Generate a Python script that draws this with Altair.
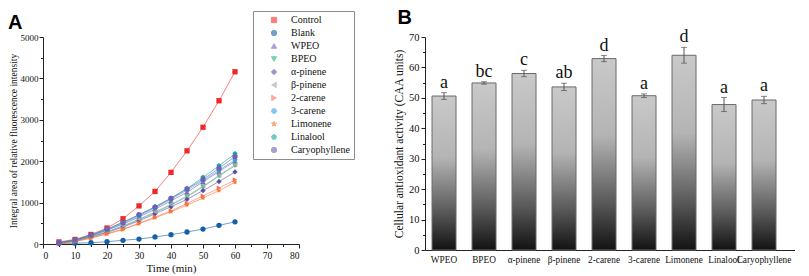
import altair as alt
import numpy as np
import pandas as pd

# ---------------- Panel A data ----------------
times = [5, 10, 15, 20, 25, 30, 35, 40, 45, 50, 55, 60]
series_names = ["Control", "Blank", "WPEO", "BPEO", "α-pinene", "β-pinene",
                "2-carene", "3-carene", "Limonene", "Linalool", "Caryophyllene"]
control = [50, 110, 230, 385, 610, 920, 1270, 1730, 2250, 2820, 3460, 4160]
blank = [15, 20, 30, 55, 90, 120, 170, 225, 290, 360, 450, 535]
wpeo = [30, 90, 200, 330, 480, 650, 840, 1040, 1250, 1500, 1750, 2000]
bpeo = [20, 80, 180, 290, 430, 590, 760, 940, 1140, 1380, 1640, 1890]
a_pinene = [20, 70, 170, 280, 410, 560, 730, 900, 1080, 1290, 1510, 1740]
b_pinene = [20, 80, 190, 300, 440, 600, 780, 960, 1160, 1400, 1660, 1915]
carene2 = [10, 60, 150, 250, 360, 500, 650, 800, 980, 1160, 1350, 1550]
carene3 = [30, 90, 200, 340, 500, 680, 870, 1080, 1300, 1530, 1780, 2035]
limonene = [10, 60, 140, 240, 350, 490, 630, 780, 940, 1110, 1290, 1490]
linalool = [30, 90, 210, 350, 530, 700, 900, 1110, 1340, 1610, 1890, 2180]
caryophyllene = [30, 100, 220, 360, 520, 710, 890, 1100, 1330, 1560, 1830, 2115]
series_values = [control, blank, wpeo, bpeo, a_pinene, b_pinene,
                 carene2, carene3, limonene, linalool, caryophyllene]

series_colors = ["#f0282a", "#1560a8", "#7b62b4", "#1fb37a", "#5a4ea0", "#a6a6a6",
                 "#fb6e5c", "#3c9fe0", "#f5792a", "#13a89e", "#6f62b3"]


def star_path(n=5, r_out=1.0, r_in=0.45):
    pts = []
    for i in range(2 * n):
        r = r_out if i % 2 == 0 else r_in
        ang = -np.pi / 2 + i * np.pi / n
        pts.append((r * np.cos(ang), r * np.sin(ang)))
    return "M" + "L".join(f"{x:.3f},{y:.3f}" for x, y in pts) + "Z"


def poly_path(n, start):
    pts = []
    for i in range(n):
        ang = start + i * 2 * np.pi / n
        pts.append((np.cos(ang), np.sin(ang)))
    return "M" + "L".join(f"{x:.3f},{y:.3f}" for x, y in pts) + "Z"


series_shapes = ["square", "circle", "triangle-up", "triangle-down", "diamond",
                 "triangle-left", "triangle-right", poly_path(6, 0.0), star_path(),
                 poly_path(5, -np.pi / 2), "circle"]

rows = []
for name, vals in zip(series_names, series_values):
    for t, v in zip(times, vals):
        rows.append({"t": t, "v": v, "series": name})
dfA = pd.DataFrame(rows)

# ---------------- Panel B data ----------------
b_categories = ["WPEO", "BPEO", "α-pinene", "β-pinene", "2-carene",
                "3-carene", "Limonene", "Linalool", "Caryophyllene"]
b_values = [50.6, 54.9, 58.0, 53.6, 62.9, 50.7, 64.0, 47.8, 49.3]
b_errors = [1.1, 0.4, 1.05, 1.2, 1.0, 0.6, 2.6, 2.3, 1.2]
b_letters = ["a", "bc", "c", "ab", "d", "a", "d", "a", "a"]

dfB = pd.DataFrame({"cat": b_categories, "val": b_values, "err": b_errors, "let": b_letters})
dfB["lo"] = dfB["val"] - dfB["err"]
dfB["hi"] = dfB["val"] + dfB["err"]

SERIF = "Liberation Serif"

# ---------------- Panel A chart ----------------
legend = alt.Legend(
    title=None, orient="none", legendX=210, legendY=-26,
    strokeColor="#8c8c8c", padding=4, labelFont=SERIF, labelFontSize=10,
    labelColor="#111", symbolSize=28, rowPadding=3, symbolStrokeWidth=1,
    labelOffset=12, symbolOffset=12,
)
color_scale = alt.Scale(domain=series_names, range=series_colors)
shape_scale = alt.Scale(domain=series_names, range=series_shapes)

x_a = alt.X("t:Q", scale=alt.Scale(domain=[0, 80], nice=False),
            axis=alt.Axis(title="Time (min)", values=list(range(0, 85, 5)),
                          labelExpr="datum.value % 10 === 0 ? datum.label : ''",
                          labelOverlap=False,
                          tickSize=alt.condition("datum.value % 10 === 0", alt.value(4), alt.value(2.5)),
                          titleFontSize=11, titlePadding=3))
y_a = alt.Y("v:Q", scale=alt.Scale(domain=[0, 5000], nice=False),
            axis=alt.Axis(title="Integral area of relative fluorescence intensity",
                          values=list(range(0, 5500, 500)),
                          labelExpr="datum.value % 1000 === 0 ? datum.label : ''",
                          labelOverlap=False, labelPadding=1,
                          tickSize=alt.condition("datum.value % 1000 === 0", alt.value(4), alt.value(2.5)),
                          format="d", titleFontSize=9.5, titlePadding=2, labelFontSize=9))

lines = alt.Chart(dfA).mark_line(strokeWidth=1, opacity=0.6).encode(
    x=x_a, y=y_a,
    color=alt.Color("series:N", scale=color_scale, legend=legend),
    detail="series:N",
)
points = alt.Chart(dfA).mark_point(filled=True, size=28, opacity=1).encode(
    x=x_a, y=y_a,
    color=alt.Color("series:N", scale=color_scale, legend=legend),
    shape=alt.Shape("series:N", scale=shape_scale, legend=legend),
)
chartA = alt.layer(lines, points).properties(
    width=256, height=207,
    title=alt.TitleParams("A", anchor="start", frame="bounds", fontSize=20,
                          font="Liberation Sans", fontWeight="bold", offset=0),
)

# ---------------- Panel B chart ----------------
grad = alt.Gradient(
    gradient="linear",
    stops=[alt.GradientStop(color="#c9c9c9", offset=0),
           alt.GradientStop(color="#b4b4b4", offset=0.4),
           alt.GradientStop(color="#5a5a5a", offset=0.75),
           alt.GradientStop(color="#121212", offset=1)],
    x1=0, x2=0, y1=0, y2=1,
)
x_b = alt.X("cat:N", sort=b_categories,
            scale=alt.Scale(paddingInner=0.4, paddingOuter=0.325, align=0.27),
            axis=alt.Axis(title=None, labelAngle=0, labelFontSize=9.3, ticks=False,
                          labelPadding=5, labelOverlap=False))
y_b_scale = alt.Scale(domain=[0, 70], nice=False)
y_b_axis = alt.Axis(title="Cellular antioxidant activity (CAA units)",
                    values=list(range(0, 75, 5)),
                    labelExpr="datum.value % 10 === 0 ? datum.label : ''",
                    labelOverlap=False,
                    tickSize=alt.condition("datum.value % 10 === 0", alt.value(4), alt.value(2.5)),
                    titleFontSize=11.5, titlePadding=4, labelFontSize=10.5)
bars = alt.Chart(dfB).mark_bar(color=grad, stroke="#6a6a6a", strokeWidth=1).encode(
    x=x_b,
    y=alt.Y("val:Q", scale=y_b_scale, axis=y_b_axis),
)
err_rule = alt.Chart(dfB).mark_rule(color="#555555", strokeWidth=1).encode(
    x=x_b, y=alt.Y("lo:Q", scale=y_b_scale, axis=y_b_axis), y2="hi:Q")
err_lo = alt.Chart(dfB).mark_tick(color="#555555", thickness=1, size=6).encode(
    x=x_b, y=alt.Y("lo:Q", scale=y_b_scale, axis=y_b_axis))
err_hi = alt.Chart(dfB).mark_tick(color="#555555", thickness=1, size=6).encode(
    x=x_b, y=alt.Y("hi:Q", scale=y_b_scale, axis=y_b_axis))
letters = alt.Chart(dfB).mark_text(font=SERIF, fontSize=18, baseline="alphabetic", dy=-5,
                                   color="#111").encode(
    x=x_b, y=alt.Y("hi:Q", scale=y_b_scale, axis=y_b_axis), text="let:N")
chartB = alt.layer(bars, err_rule, err_lo, err_hi, letters).properties(
    width=370, height=213,
    title=alt.TitleParams("B", anchor="start", frame="bounds", fontSize=20,
                          font="Liberation Sans", fontWeight="bold", offset=0, dx=4),
)

chart = alt.hconcat(chartA, chartB, spacing=93).properties(padding=0).configure_view(
    stroke=None
).configure_axis(
    grid=False, domainColor="#222", tickColor="#222", labelFont=SERIF, titleFont=SERIF,
    labelColor="#111", titleColor="#111", titleFontWeight="normal", labelFontSize=9.5,
).configure_title(color="#000")

chart.save("out.html", embed_options={"renderer": "svg", "actions": False})
